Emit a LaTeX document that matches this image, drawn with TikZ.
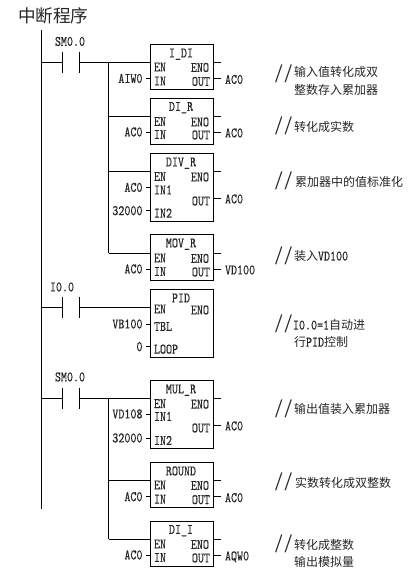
\documentclass[tikz,border=0pt]{standalone}
\usepackage{fontspec}
\newfontfamily\latf[FakeStretch=0.79,FakeBold=0.25]{lmmono10-regular.otf}
\newfontfamily\zhf{Noto Sans CJK SC}
\newfontfamily\slashf{Liberation Serif}
\newcommand{\zh}[1]{{\zhf\fontsize{9pt}{11pt}\selectfont #1}}
\newcommand{\lt}[1]{{\latf\fontsize{10.9pt}{11pt}\selectfont #1}}
\tikzset{
  wire/.style={line width=0.75pt,black},
  fbox/.style={draw,line width=0.75pt,minimum width=46.9pt,inner sep=0pt,outer sep=0pt,anchor=center},
  txt/.style={inner sep=0pt,outer sep=0pt,font=\latf\fontsize{10.9pt}{11pt}\selectfont,text=black!85,text height=6.6pt,text depth=0pt},
  note/.style={inner sep=0pt,outer sep=0pt,anchor=west,text=black!85},
  slashes/.style={inner sep=0pt,outer sep=0pt,font=\slashf\fontsize{20pt}{22pt}\selectfont,text=black!85}
}
% \fb{name}{title}{top}{bottom}
\newcommand{\fb}[4]{%
  \node[fbox,minimum height={(#4-#3)*0.75pt}] (#1) at (181.75,{(#3+#4)/2}) {};
  \node[txt] (#1-t) at (181,{#3+8.5}) {#2};
}
% \enpin{block}{y}
\newcommand{\enpin}[2]{%
  \coordinate (#1-en) at (#1.west |- 0,#2);
  \node[txt,anchor=west] (#1-ent) at (154,{#2+5}) {EN};
  \node[txt,anchor=east] (#1-enot) at (209,{#2+5.5}) {ENO};
  \coordinate (#1-eno) at (#1.east |- 0,#2);
  \coordinate (#1-enoe) at (221,#2);
}
% \inpin{block}{key}{y}{pin}{label}
\newcommand{\inpin}[5]{%
  \node[txt,anchor=east] (#1-#2-l) at (142.5,#3) {#5};
  \node[txt,anchor=west] (#1-#2-p) at (154,{#3+2.5}) {#4};
  \coordinate (#1-#2-s) at (145.5,#3);
  \draw[wire] (#1-#2-s) -- (#1-#2-s -| #1.west);
}
% \outpin{block}{y}{label}
\newcommand{\outpin}[3]{%
  \node[txt,anchor=east] (#1-out-p) at (210,{#2+3}) {OUT};
  \node[txt,anchor=west] (#1-out-l) at (225,{#2+1}) {#3};
  \coordinate (#1-out-e) at (221,#2);
  \draw[wire] (#1-out-e -| #1.east) -- (#1-out-e);
}
% \contact{name}{y}{label}{label x}{label y}
\newcommand{\contact}[5]{%
  \coordinate (#1-a1) at (62.5,{#2-10.5});
  \coordinate (#1-a2) at (62.5,{#2+10.5});
  \coordinate (#1-b1) at (79.5,{#2-10.5});
  \coordinate (#1-b2) at (79.5,{#2+10.5});
  \coordinate (#1-a) at (62.5,#2);
  \coordinate (#1-b) at (79.5,#2);
  \coordinate (#1-r) at (41.5,#2);
  \draw[wire] (#1-a1) -- (#1-a2);
  \draw[wire] (#1-b1) -- (#1-b2);
  \draw[wire] (#1-r) -- (#1-a);
  \node[txt] (#1-l) at (#4,#5) {#3};
}
% \cmt{name}{y of slashes}{x}{y}{text}
\newcommand{\cmt}[5]{%
  \node[slashes] (#1-s) at (283.5,#2) {/\kern1.6pt/};
  \node[note] (#1) at (#3,#4) {#5};
}
\begin{document}
\begin{tikzpicture}[x=0.75pt,y=-0.75pt]
\useasboundingbox (0,0) rectangle (417,576);
\node[inner sep=0pt,outer sep=0pt,anchor=west,text=black!85,font=\zhf\fontsize{13.2pt}{15pt}\selectfont] (title) at (18,16) {中断程序};

\coordinate (railt) at (41.5,30);
\coordinate (railb) at (41.5,509);
\draw[wire] (railt) -- (railb);

% network 1
\contact{c1}{62}{SM0.0}{70}{41.5}
\fb{idi}{I\_DI}{44.5}{89.5}
\enpin{idi}{62}
\inpin{idi}{in}{78.5}{IN}{AIW0}
\outpin{idi}{78.5}{AC0}
\fb{dir}{DI\_R}{98}{144.5}
\enpin{dir}{116.5}
\inpin{dir}{in}{132}{IN}{AC0}
\outpin{dir}{132}{AC0}
\fb{divr}{DIV\_R}{153.5}{221.5}
\enpin{divr}{171.5}
\inpin{divr}{in1}{187.5}{IN1}{AC0}
\inpin{divr}{in2}{210.7}{IN2}{32000}
\outpin{divr}{198}{AC0}
\fb{movr}{MOV\_R}{234.5}{280}
\enpin{movr}{253}
\inpin{movr}{in}{269}{IN}{AC0}
\outpin{movr}{269}{VD100}
\coordinate (br1t) at (108.5,62);
\coordinate (br1b) at (108.5,253);
\draw[wire] (c1-b) -- (idi-en);
\draw[wire] (br1t) -- (br1b);
\draw[wire] (br1b) -- (movr-en);
\draw[wire] (dir-en -| br1t) -- (dir-en);
\draw[wire] (divr-en -| br1t) -- (divr-en);
\foreach \b in {idi,dir,divr,movr} \draw[wire] (\b-eno) -- (\b-enoe);

% network 2
\contact{c2}{307}{I0.0}{62}{287}
\fb{pid}{PID}{289.5}{357}
\coordinate (pid-en) at (pid.west |- 0,307);
\node[txt,anchor=west] (pid-ent) at (154,309) {EN};
\node[txt,anchor=east] (pid-enot) at (209,310) {ENO};
\inpin{pid}{tbl}{324}{TBL}{VB100}
\inpin{pid}{loop}{346.7}{LOOP}{0}
\draw[wire] (c2-b) -- (pid-en);

% network 3
\contact{c3}{398.7}{SM0.0}{70}{377}
\fb{mulr}{MUL\_R}{380.5}{448}
\enpin{mulr}{398.7}
\inpin{mulr}{in1}{414}{IN1}{VD108}
\inpin{mulr}{in2}{438}{IN2}{32000}
\outpin{mulr}{425}{AC0}
\fb{round}{ROUND}{462.5}{507.5}
\enpin{round}{480}
\inpin{round}{in}{496.7}{IN}{AC0}
\outpin{round}{496.7}{AC0}
\fb{dii}{DI\_I}{521}{566}
\enpin{dii}{539}
\inpin{dii}{in}{555}{IN}{AC0}
\outpin{dii}{555}{AQW0}
\coordinate (br2t) at (108.5,398.7);
\coordinate (br2b) at (108.5,539);
\draw[wire] (c3-b) -- (mulr-en);
\draw[wire] (br2t) -- (br2b);
\draw[wire] (br2b) -- (dii-en);
\draw[wire] (round-en -| br2t) -- (round-en);
\foreach \b in {mulr,round,dii} \draw[wire] (\b-eno) -- (\b-enoe);

% comments
\cmt{n1}{73.5}{294}{72}{\zh{输入值转化成双}}
\node[note] (n1b) at (294,90) {\zh{整数存入累加器}};
\cmt{n2}{126}{294}{127}{\zh{转化成实数}}
\cmt{n3}{181}{295}{182}{\zh{累加器中的值标准化}}
\cmt{n4}{255.5}{294}{256}{\zh{装入}\lt{VD100}}
\cmt{n5}{323.5}{293}{325}{\lt{I0.0=1}\zh{自动进}}
\node[note] (n5b) at (294,342) {\zh{行}\lt{PID}\zh{控制}};
\cmt{n6}{408.5}{294}{409}{\zh{输出值装入累加器}}
\cmt{n7}{482}{295}{483}{\zh{实数转化成双整数}}
\cmt{n8}{544}{294}{545}{\zh{转化成整数}}
\node[note] (n8b) at (294,562) {\zh{输出模拟量}};
\end{tikzpicture}
\end{document}
